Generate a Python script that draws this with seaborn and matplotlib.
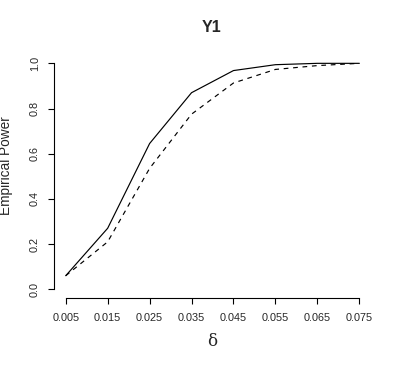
import numpy as np
import pandas as pd
import matplotlib
matplotlib.use("Agg")
import matplotlib.pyplot as plt
import seaborn as sns

# values
delta = [0.005, 0.015, 0.025, 0.035, 0.045, 0.055, 0.065, 0.075]
power_solid = [0.06, 0.27, 0.645, 0.87, 0.968, 0.994, 1.0, 1.0]
power_dashed = [0.06, 0.21, 0.535, 0.775, 0.913, 0.973, 0.99, 1.0]
x_ticks = [0.005, 0.015, 0.025, 0.035, 0.045, 0.055, 0.065, 0.075]
x_ticklabels = ["0.005", "0.015", "0.025", "0.035", "0.045", "0.055", "0.065", "0.075"]
y_ticks = [0.0, 0.2, 0.4, 0.6, 0.8, 1.0]
y_ticklabels = ["0.0", "0.2", "0.4", "0.6", "0.8", "1.0"]

df = pd.DataFrame({
    "delta": delta * 2,
    "power": power_solid + power_dashed,
    "method": ["solid"] * len(delta) + ["dashed"] * len(delta),
})

sns.set_style("ticks")
plt.rcParams["font.family"] = ["Liberation Sans", "DejaVu Sans"]

fig = plt.figure(figsize=(3.99, 3.66), dpi=100)
ax = fig.add_axes([54 / 399, 1 - 298.3 / 366, 317 / 399, 244 / 366])

sns.lineplot(
    data=df, x="delta", y="power", style="method",
    dashes={"solid": "", "dashed": (4, 4)},
    color="black", linewidth=0.85, legend=False, ax=ax,
)

ax.set_xlim(0.005 - 0.0028, 0.075 + 0.0028)
ax.set_ylim(-0.04, 1.04)
ax.set_xticks(x_ticks)
ax.set_xticklabels(x_ticklabels, fontsize=7.8)
ax.set_yticks(y_ticks)
ax.set_yticklabels(y_ticklabels, fontsize=7.8, rotation=90, va="center")
ax.tick_params(direction="out", length=4.5, width=0.8, color="black")
ax.tick_params(axis="x", pad=6)
ax.tick_params(axis="y", pad=5.8)

for side in ["left", "bottom"]:
    ax.spines[side].set_linewidth(0.8)
    ax.spines[side].set_color("black")
sns.despine(ax=ax, trim=True)
ax.set_xlabel("")
ax.set_ylabel("")

fig.text(212 / 399, 1 - 27.5 / 366, "Y1", ha="center", va="center",
         fontsize=11.5, fontweight="bold")
fig.text(6.5 / 399, 1 - 166 / 366, "Empirical Power", ha="center", va="center",
         rotation=90, fontsize=9.8)
fig.text(212 / 399, 1 - 342 / 366, "δ", ha="center", va="center",
         fontsize=12, family=["DejaVu Serif"])

fig.savefig("out.png", dpi=100)
